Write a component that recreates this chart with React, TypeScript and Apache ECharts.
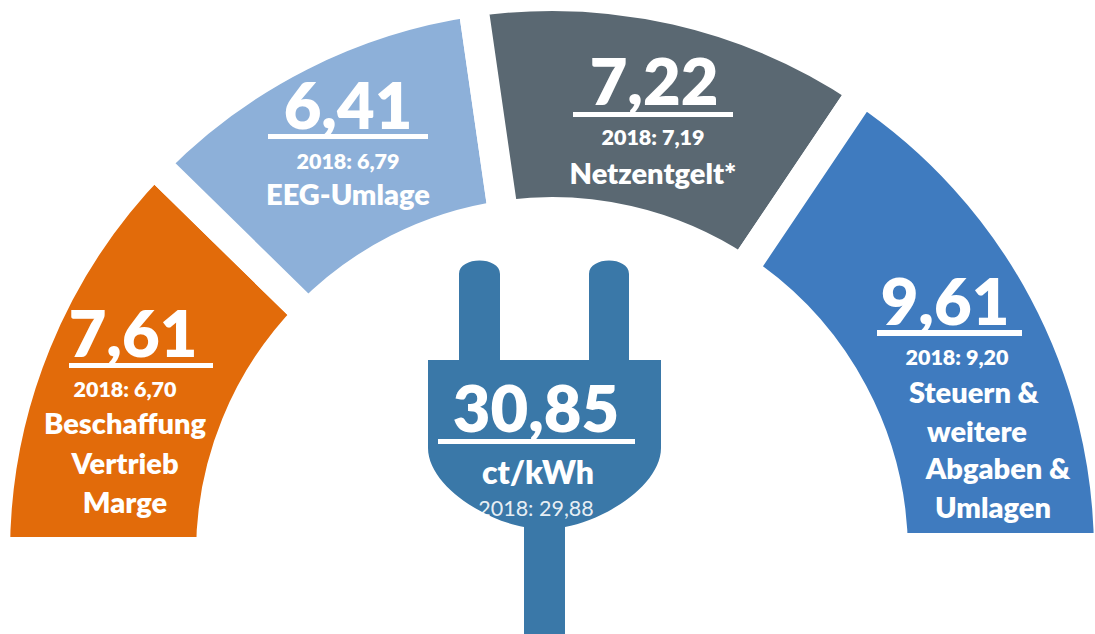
import React, { useEffect, useRef } from "react";
import * as echarts from "echarts";

const categories = ["Beschaffung Vertrieb Marge", "EEG-Umlage", "Netzentgelt*", "Steuern & weitere Abgaben & Umlagen"];
const values2019 = [7.61, 6.41, 7.22, 9.61];
const valueLabels = ["7,61", "6,41", "7,22", "9,61"];
const priorLabels = ["2018: 6,70", "2018: 6,79", "2018: 7,19", "2018: 9,20"];
const colors = ["#E26B0A", "#8DB0D9", "#5A6872", "#3F7BBF"];
const totalLabel = "30,85";
const unitLabel = "ct/kWh";
const totalPrior = "2018: 29,88";
const PLUG = "#3A78A8";
const FONT = "Lato, Carlito, 'Noto Sans', sans-serif";

const plugPath =
  "M459 360 L459 274 C459 256 500 256 500 274 L500 360 L589 360 L589 274 C589 256 629 256 629 274 L629 360 " +
  "L661 360 L661 448 C661 485 605 520 565 527 L565 634 L524 634 L524 527 C484 520 428 485 428 448 L428 360 Z";

echarts.graphic.registerShape("plugShape", echarts.graphic.extendPath(plugPath as any, {}) as any);

function txt(text: string, cx: number, base: number, size: number, weight: number | string = 800, fill = "#fff") {
  return {
    type: "text",
    z: 20,
    silent: true,
    style: {
      text,
      x: cx,
      y: base - size * 0.36,
      fill,
      align: "center",
      verticalAlign: "middle",
      font: `${weight} ${size}px ${FONT}`,
    },
  };
}

function bar(x1: number, x2: number, y1: number, y2: number) {
  return { type: "rect", z: 20, silent: true, shape: { x: x1, y: y1, width: x2 - x1, height: y2 - y1 }, style: { fill: "#fff" } };
}

export default function App() {
  const ref = useRef<HTMLDivElement>(null);
  useEffect(() => {
    if (!ref.current) return;
    const chart = echarts.init(ref.current, undefined, { renderer: "svg" });
    const BIG = 65;
    const SMALL = 21.5;
    const LAB = 29;
    chart.setOption({
      animation: false,
      backgroundColor: "#fff",
      series: [
        {
          type: "pie",
          silent: true,
          center: [552, 553],
          radius: [341, 557],
          startAngle: 180,
          endAngle: 0,
          clockwise: true,
          label: { show: false },
          labelLine: { show: false },
          itemStyle: { borderColor: "#fff", borderWidth: 30, borderJoin: "miter" },
          data: categories.map((name, i) => ({ name, value: values2019[i], itemStyle: { color: colors[i] } })),
        },
      ],
      graphic: {
        elements: [
          { type: "rect", z: 10, silent: true, shape: { x: 0, y: 537, width: 300, height: 97 }, style: { fill: "#fff" } },
          { type: "rect", z: 10, silent: true, shape: { x: 800, y: 533, width: 295, height: 101 }, style: { fill: "#fff" } },
          { type: "plugShape", z: 15, silent: true, style: { fill: PLUG } },

          txt(valueLabels[0], 133, 355, BIG),
          bar(69, 213, 363, 368),
          txt(priorLabels[0], 125, 397, SMALL),
          txt("Beschaffung", 125, 433, LAB),
          txt("Vertrieb", 125, 473, LAB),
          txt("Marge", 125, 512, LAB),

          txt(valueLabels[1], 348, 127, BIG),
          bar(268, 428, 134, 139),
          txt(priorLabels[1], 348, 169, SMALL),
          txt("EEG-Umlage", 348, 204, LAB),

          txt(valueLabels[2], 654, 103, BIG),
          bar(573, 733, 112, 117),
          txt(priorLabels[2], 653, 145, SMALL),
          txt("Netzentgelt*", 653, 183, LAB),

          txt(valueLabels[3], 945, 323, BIG),
          bar(877, 1022, 330, 336),
          txt(priorLabels[3], 957, 365, SMALL),
          txt("Steuern &", 974, 402, LAB),
          txt("weitere", 977, 441, LAB),
          txt("Abgaben &", 998, 478, LAB),
          txt("Umlagen", 993, 517, LAB),

          txt(totalLabel, 536, 430, 65),
          bar(438, 635, 439, 444),
          txt(unitLabel, 538, 483, 32),
          txt(totalPrior, 536, 516, 21.5, 400, "rgba(255,255,255,0.9)"),
        ],
      },
    });
    return () => chart.dispose();
  }, []);
  return <div ref={ref} style={{ position: "absolute", left: 0, top: 0, width: 1095, height: 634 }} />;
}
